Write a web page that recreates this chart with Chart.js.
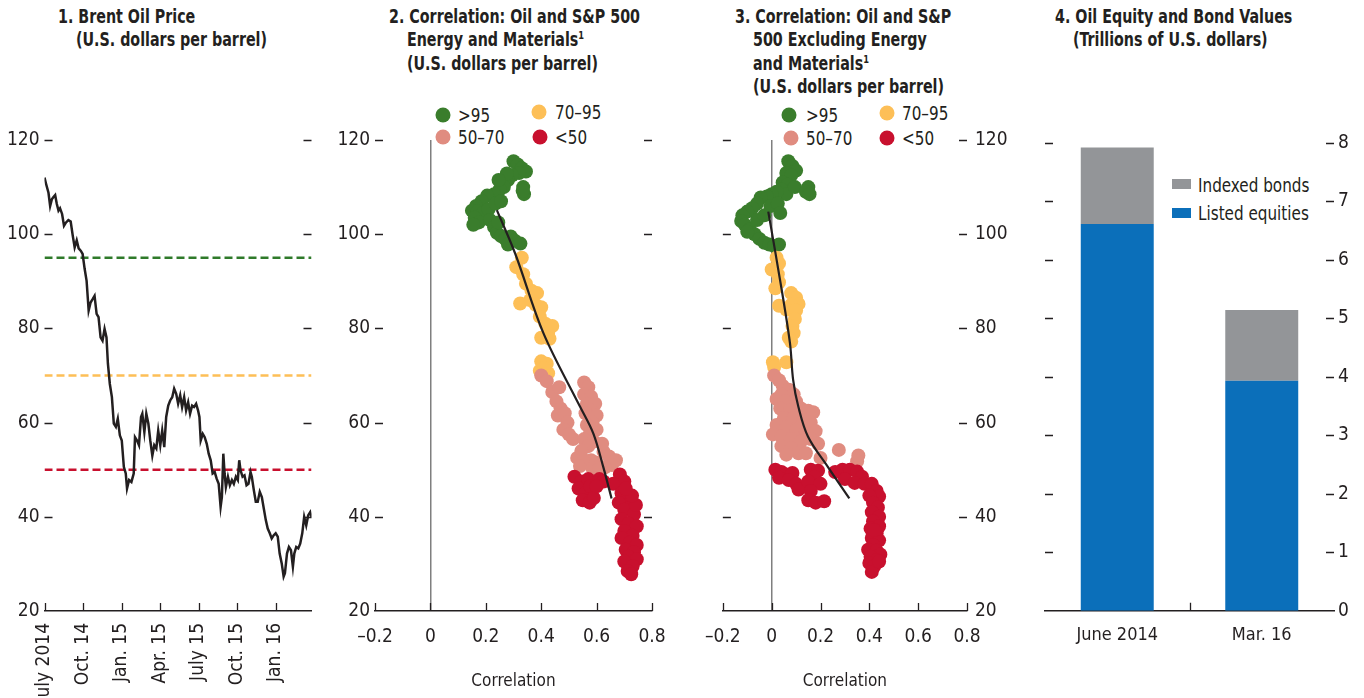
<!DOCTYPE html>
<html lang="en">
<head>
<meta charset="UTF-8" />
<title>Oil Price, Correlations and Values</title>
<script src="https://cdn.jsdelivr.net/npm/chart.js"></script>
<style>
  body {
    margin: 0;
    width: 1364px;
    height: 698px;
    overflow: hidden;
    position: relative;
    background: #fff;
    color: #231f20;
    font-family: 'Liberation Sans Narrow', 'Arial Narrow', 'DejaVu Sans Condensed', sans-serif;
  }
  canvas { position: absolute; top: 100px; }
  .title {
    position: absolute;
    top: 5px;
    font-weight: bold;
    font-size: 19px;
    line-height: 23.3px;
    white-space: nowrap;
    transform: scaleX(0.835);
    transform-origin: 0 0;
  }
  .title .ind { display: block; padding-left: 21.5px; }
  .title sup { font-size: 11px; vertical-align: 7px; line-height: 0; }
  .dot {
    position: absolute;
    width: 15px; height: 15px;
    border-radius: 50%;
    transform: translate(-50%, -50%);
  }
  .lt {
    position: absolute;
    font-size: 19px;
    line-height: 20px;
    transform: translateY(-50%) scaleX(0.89);
    transform-origin: 0 50%;
    white-space: nowrap;
  }
  .sq { position: absolute; width: 19px; height: 10px; }
</style>
</head>
<body>
  <div class="title" style="left:58px">1. Brent Oil Price<span class="ind">(U.S. dollars per barrel)</span></div>
  <div class="title" style="left:389px">2. Correlation: Oil and S&amp;P 500<span class="ind">Energy and Materials<sup>1</sup></span><span class="ind">(U.S. dollars per barrel)</span></div>
  <div class="title" style="left:735px">3. Correlation: Oil and S&amp;P<span class="ind">500 Excluding Energy</span><span class="ind">and Materials<sup>1</sup></span><span class="ind">(U.S. dollars per barrel)</span></div>
  <div class="title" style="left:1055px">4. Oil Equity and Bond Values<span class="ind">(Trillions of U.S. dollars)</span></div>

  <!-- legends for panels 2 and 3 -->
  <div class="dot" style="left:443px;top:115px;background:#3a7d2c"></div><div class="lt" style="left:458px;top:115px">&gt;95</div>
  <div class="dot" style="left:539px;top:112px;background:#fdbf57"></div><div class="lt" style="left:555px;top:112px">70–95</div>
  <div class="dot" style="left:443px;top:137px;background:#e08c80"></div><div class="lt" style="left:458px;top:137px">50–70</div>
  <div class="dot" style="left:540px;top:137px;background:#c8102e"></div><div class="lt" style="left:555px;top:137px">&lt;50</div>

  <div class="dot" style="left:789px;top:115px;background:#3a7d2c"></div><div class="lt" style="left:806px;top:115px">&gt;95</div>
  <div class="dot" style="left:887px;top:113px;background:#fdbf57"></div><div class="lt" style="left:902px;top:113px">70–95</div>
  <div class="dot" style="left:791px;top:138px;background:#e08c80"></div><div class="lt" style="left:806px;top:138px">50–70</div>
  <div class="dot" style="left:887px;top:138px;background:#c8102e"></div><div class="lt" style="left:902px;top:138px">&lt;50</div>

  <!-- legend for panel 4 -->
  <div class="sq" style="left:1172px;top:179px;background:#939598"></div><div class="lt" style="left:1198px;top:185px">Indexed bonds</div>
  <div class="sq" style="left:1172px;top:208px;background:#0b6fba"></div><div class="lt" style="left:1198px;top:213px">Listed equities</div>

  <canvas id="c1" width="330" height="598" style="left:0px"></canvas>
  <canvas id="c2" width="360" height="598" style="left:330px"></canvas>
  <canvas id="c3" width="340" height="598" style="left:690px"></canvas>
  <canvas id="c4" width="334" height="598" style="left:1030px"></canvas>

<script>
// ---- panel 1: Brent oil price (months since July 2014) ----
const oilMonth = [0, 0.13, 0.31, 0.44, 0.57, 0.70, 0.83, 0.96, 1.09, 1.21, 1.37, 1.52, 1.68, 1.86, 2.04,
  2.20, 2.35, 2.51, 2.66, 2.82, 2.97, 3.13, 3.28, 3.44, 3.59, 3.75, 3.90, 4.06, 4.21, 4.37, 4.52,
  4.68, 4.83, 4.94, 5.09, 5.25, 5.40, 5.56, 5.71, 5.87, 6.02, 6.18, 6.33, 6.43, 6.59, 6.77, 6.95,
  7.05, 7.21, 7.36, 7.52, 7.62, 7.78, 7.93, 8.09, 8.24, 8.40, 8.55, 8.71, 8.86, 9.02, 9.17, 9.33,
  9.48, 9.64, 9.79, 9.95, 10.10, 10.26, 10.41, 10.57, 10.72, 10.88, 11.03, 11.19, 11.34, 11.50,
  11.65, 11.81, 11.96, 12.07, 12.17, 12.33, 12.48, 12.64, 12.79, 12.95, 13.10, 13.26, 13.41, 13.57,
  13.72, 13.82, 13.93, 14.03, 14.13, 14.29, 14.44, 14.60, 14.75, 14.91, 15.06, 15.17, 15.27, 15.43,
  15.58, 15.74, 15.89, 16.05, 16.15, 16.31, 16.46, 16.61, 16.77, 16.93, 17.08, 17.24, 17.39, 17.55,
  17.70, 17.86, 18.01, 18.17, 18.32, 18.48, 18.63, 18.73, 18.89, 19.04, 19.20, 19.35, 19.46, 19.61,
  19.77, 19.92, 20.08, 20.23, 20.39, 20.54, 20.70, 20.80];
const oilPrice = [112.0, 110.6, 108.8, 106.0, 107.4, 107.9, 108.3, 106.4, 105.0, 105.5, 104.3, 101.8, 102.5, 103.0, 102.7,
  99.7, 97.2, 98.7, 97.0, 96.5, 95.8, 92.6, 90.1, 83.8, 85.5, 86.2, 86.9, 83.1, 82.4, 78.1, 77.4,
  79.9, 78.1, 72.5, 68.2, 65.4, 59.8, 59.1, 60.8, 57.3, 56.2, 50.6, 49.2, 46.0, 47.8, 47.4, 49.2,
  56.9, 56.2, 55.2, 61.2, 61.9, 58.0, 61.9, 59.8, 56.2, 53.0, 55.2, 54.5, 58.3, 55.2, 58.3, 54.8,
  61.2, 63.6, 64.7, 65.4, 67.2, 66.1, 64.0, 65.8, 63.3, 65.4, 62.6, 64.3, 61.9, 63.6,
  63.3, 64.0, 62.6, 61.2, 56.2, 57.6, 56.9, 55.5, 53.4, 52.0, 49.2, 49.5, 48.1, 47.0,
  42.1, 44.2, 53.4, 49.2, 46.3, 48.5, 46.7, 47.8, 47.0, 48.5, 47.8, 52.0, 49.9, 48.5,
  48.8, 46.7, 47.0, 49.5, 48.5, 45.6, 43.2, 43.2, 45.3, 44.2, 41.8, 39.3, 37.5, 36.5,
  35.4, 36.1, 36.5, 35.8, 32.2, 30.1, 27.3, 28.0, 32.2, 33.6, 32.9, 29.4, 32.2, 33.6,
  33.3, 34.3, 36.5, 40.0, 38.2, 40.3, 41.0, 40.0];
const monthMax = 20.8;
const quarterPos = [0, 3, 6, 9, 12, 15, 18];
const quarterLabels = ['July 2014', 'Oct. 14', 'Jan. 15', 'Apr. 15', 'July 15', 'Oct. 15', 'Jan. 16'];
const thresholds = [95, 70, 50];
const thresholdColors = ['#2f7a2a', '#fdbf57', '#c8102e'];
const priceTicks = [20, 40, 60, 80, 100, 120];

// ---- panel 2: correlation with S&P 500 energy and materials ----
const p2GreenX = [0.300, 0.315, 0.330, 0.345, 0.320, 0.295, 0.280, 0.265, 0.250, 0.335, 0.338, 0.333, 0.230,
  0.205, 0.185, 0.165, 0.150, 0.170, 0.190, 0.210, 0.235, 0.255, 0.160, 0.175, 0.155, 0.215, 0.230,
  0.240, 0.255, 0.270, 0.290, 0.305, 0.325, 0.280, 0.245, 0.276, 0.246];
const p2GreenY = [115.5, 114.8, 114.0, 113.3, 113.0, 112.5, 111.5, 110.0, 109.5, 110.0, 108.5, 109.2, 108.5,
  108.2, 107.0, 106.0, 105.0, 104.8, 104.5, 105.3, 106.5, 107.0, 103.5, 102.5, 102.0, 103.0, 101.5,
  100.3, 99.6, 99.0, 99.5, 98.6, 98.0, 97.8, 102.5, 112.9, 111.5];
const p2YellowX = [0.330, 0.310, 0.335, 0.345, 0.365, 0.385, 0.360, 0.380, 0.400, 0.395, 0.415, 0.440,
  0.425, 0.400, 0.430, 0.400, 0.420, 0.395, 0.425, 0.410, 0.324, 0.372];
const p2YellowY = [95.0, 93.0, 91.5, 89.5, 88.0, 87.5, 86.0, 85.0, 84.5, 82.5, 81.0, 80.5,
  79.0, 78.0, 77.8, 73.0, 72.5, 71.0, 70.5, 71.5, 85.3, 87.4];
const p2PinkX = [0.400, 0.420, 0.440, 0.465, 0.455, 0.470, 0.460, 0.485, 0.495, 0.480, 0.500, 0.515,
  0.555, 0.570, 0.555, 0.580, 0.565, 0.595, 0.580, 0.560, 0.600, 0.585, 0.565, 0.600, 0.575, 0.555,
  0.590, 0.570, 0.545, 0.530, 0.555, 0.540, 0.580, 0.600, 0.585, 0.625, 0.645, 0.670, 0.655, 0.630,
  0.610, 0.620];
const p2PinkY = [70.0, 68.8, 66.5, 67.5, 64.5, 63.0, 61.5, 62.0, 60.0, 58.5, 57.5, 56.5,
  68.5, 67.5, 66.0, 65.5, 64.0, 64.0, 62.5, 62.0, 61.5, 60.0, 59.5, 58.5, 57.5, 56.5,
  56.0, 55.0, 54.0, 52.5, 52.0, 50.8, 52.0, 51.5, 50.3, 53.8, 52.8, 52.0, 51.0, 50.5,
  50.2, 55.5];
const p2RedX = [0.684, 0.700, 0.660, 0.690, 0.712, 0.680, 0.720, 0.700, 0.735, 0.690, 0.715, 0.745,
  0.700, 0.730, 0.690, 0.720, 0.745, 0.705, 0.735, 0.715, 0.745, 0.700, 0.730, 0.712, 0.725, 0.742,
  0.728, 0.705, 0.520, 0.545, 0.570, 0.535, 0.560, 0.578, 0.550, 0.575, 0.590, 0.610, 0.625, 0.600];
const p2RedY = [49.0, 47.5, 47.0, 45.0, 44.0, 43.0, 42.0, 41.5, 40.5, 39.5, 38.5, 38.0,
  37.0, 36.0, 35.5, 34.5, 34.0, 33.0, 32.5, 31.5, 31.0, 30.5, 29.5, 28.5, 27.8, 42.5,
  44.5, 46.0, 48.5, 47.5, 48.0, 46.0, 45.0, 46.5, 43.5, 43.0, 44.0, 48.0, 47.5, 46.5];
const p2FitX = [0.240, 0.306, 0.408, 0.540, 0.588, 0.624, 0.654];
const p2FitY = [105.1, 95.9, 79.0, 63.4, 57.7, 50.6, 43.9];

// ---- panel 3: correlation with S&P 500 excluding energy and materials ----
const p3GreenX = [0.068, 0.085, 0.100, 0.060, 0.080, 0.045, 0.065, 0.040, 0.060, 0.095, 0.150, 0.140,
  0.155, 0.020, 0.000, -0.020, -0.045, -0.060, -0.080, -0.100, -0.120, -0.125, -0.110, -0.090, -0.070,
  -0.050, -0.030, -0.010, 0.010, 0.030, -0.100, -0.060, -0.030, -0.005, 0.025, 0.035];
const p3GreenY = [115.5, 114.5, 113.5, 113.0, 112.5, 111.0, 110.5, 109.5, 108.5, 110.0, 110.0, 109.0,
  108.5, 109.0, 108.5, 108.0, 107.8, 106.5, 105.5, 104.8, 104.0, 102.8, 102.0, 101.0, 100.0,
  99.0, 98.2, 97.8, 97.5, 97.8, 100.5, 103.0, 104.0, 106.0, 106.5, 104.5];
const p3YellowX = [0.020, 0.030, 0.000, 0.025, 0.030, 0.015, 0.080, 0.100, 0.110, 0.080, 0.030, 0.060,
  0.100, 0.095, 0.085, 0.090, 0.070, 0.080, 0.005, 0.060, 0.010];
const p3YellowY = [95.0, 93.8, 92.5, 91.5, 89.8, 88.5, 87.5, 86.5, 85.2, 85.0, 84.8, 84.0,
  83.8, 82.0, 80.5, 79.0, 78.0, 77.2, 72.8, 72.8, 71.8];
const p3PinkX = [0.010, 0.030, 0.045, 0.070, 0.040, 0.090, 0.020, 0.055, 0.100, 0.035, 0.075, 0.120,
  0.150, 0.170, 0.050, 0.090, 0.130, 0.160, 0.020, 0.060, 0.100, 0.140, 0.180, 0.005, 0.040, 0.080,
  0.120, 0.160, 0.190, 0.040, 0.080, 0.110, 0.060, 0.140, 0.275, 0.355, 0.350, 0.200];
const p3PinkY = [70.0, 69.0, 67.8, 67.0, 66.0, 66.0, 65.0, 64.5, 64.5, 63.0, 62.5, 63.0,
  62.5, 62.2, 61.0, 61.0, 60.5, 60.0, 59.5, 59.0, 58.5, 58.0, 58.2, 57.5, 57.0, 56.5,
  56.0, 56.5, 55.5, 55.0, 54.5, 53.5, 53.2, 53.5, 54.2, 53.0, 51.8, 52.5];
const p3RedX = [0.015, 0.040, 0.060, 0.085, 0.030, 0.070, 0.100, 0.110, 0.160, 0.190, 0.175, 0.150,
  0.200, 0.160, 0.150, 0.180, 0.215, 0.260, 0.290, 0.320, 0.350, 0.370, 0.300, 0.340, 0.380, 0.410,
  0.430, 0.440, 0.400, 0.415, 0.435, 0.410, 0.440, 0.415, 0.440, 0.405, 0.430, 0.410, 0.440, 0.415,
  0.395, 0.430, 0.445, 0.405, 0.430, 0.400, 0.420, 0.410, 0.440, 0.420];
const p3RedY = [50.0, 49.5, 49.0, 49.3, 48.3, 47.8, 47.0, 45.8, 50.0, 49.8, 48.5, 47.5,
  47.0, 45.5, 43.5, 43.0, 43.3, 49.5, 50.0, 50.0, 49.6, 48.5, 48.0, 47.2, 47.0, 47.0,
  45.5, 44.3, 44.5, 43.0, 42.0, 41.0, 40.0, 39.0, 38.0, 37.5, 36.5, 35.5, 35.0, 34.0,
  33.0, 32.8, 32.0, 31.5, 30.8, 30.2, 29.5, 28.3, 30.5, 37.2];
const p3FitX = [-0.014, 0.041, 0.075, 0.088, 0.109, 0.149, 0.230, 0.318];
const p3FitY = [104.8, 88.2, 76.8, 69.0, 63.4, 57.0, 50.6, 43.9];

const corrTicks = [-0.2, 0, 0.2, 0.4, 0.6, 0.8];

// ---- panel 4: oil equity and bond values ----
const valueDates = ['June 2014', 'Mar. 16'];
const listedEquities = [6.61, 3.93];
const indexedBonds = [1.31, 1.21];
const valueTicks = [0, 1, 2, 3, 4, 5, 6, 7, 8];

const INK = '#231f20';
Chart.defaults.font.family = "'Liberation Sans Narrow', 'Arial Narrow', 'DejaVu Sans Condensed', sans-serif";
Chart.defaults.font.size = 19;
Chart.defaults.color = INK;
Chart.defaults.animation = false;
Chart.defaults.plugins.legend.display = false;
Chart.defaults.plugins.tooltip.enabled = false;

const fixW = w => s => { s.width = w; };
const fixH = h => s => { s.height = h; };
const setTicks = vals => s => { s.ticks = vals.map(v => ({ value: v })); };
const pts = (xs, ys) => xs.map((x, i) => ({ x: x, y: ys[i] }));
const corrLabel = v => v === 0 ? '0' : (v < 0 ? '–' : '') + Math.abs(v).toFixed(1);

// short tick marks drawn inside the plot area
const innerTicks = {
  id: 'innerTicks',
  afterDraw(chart, args, opts) {
    const { ctx, chartArea: a } = chart;
    const len = 8;
    ctx.save();
    ctx.strokeStyle = INK;
    ctx.lineWidth = 1.3;
    ctx.beginPath();
    const ys = chart.scales.y;
    (opts.yValues || []).forEach(v => {
      const py = Math.round(ys.getPixelForValue(v)) + 0.5;
      if (opts.left) { ctx.moveTo(a.left, py); ctx.lineTo(a.left + len, py); }
      if (opts.right) { ctx.moveTo(a.right - len, py); ctx.lineTo(a.right, py); }
    });
    const xs = chart.scales.x;
    (opts.xValues || []).forEach(v => {
      const px = Math.round(xs.getPixelForValue(v)) + 0.5;
      ctx.moveTo(px, a.bottom); ctx.lineTo(px, a.bottom - len);
    });
    ctx.stroke();
    ctx.restore();
  }
};

const scatterSets = (g, y, p, r, fit) => [
  { type: 'line', data: fit, borderColor: INK, borderWidth: 2.2, pointRadius: 0, tension: 0.35, fill: false },
  { data: r, backgroundColor: '#c8102e' },
  { data: p, backgroundColor: '#e08c80' },
  { data: y, backgroundColor: '#fdbf57' },
  { data: g, backgroundColor: '#3a7d2c' }
].map(d => Object.assign({ pointRadius: 7, borderWidth: 0, pointHoverRadius: 7 }, d));

// panel 1
new Chart(document.getElementById('c1'), {
  type: 'line',
  data: {
    datasets: [
      { data: pts(oilMonth, oilPrice), borderColor: INK, borderWidth: 2.5, pointRadius: 0, tension: 0 },
      ...thresholds.map((t, i) => ({
        data: [{ x: 0, y: t }, { x: monthMax, y: t }],
        borderColor: thresholdColors[i], borderWidth: 2.5, borderDash: [8, 4], pointRadius: 0
      }))
    ]
  },
  options: {
    responsive: false,
    layout: { padding: { top: 40, right: 18.5, left: 0, bottom: 0 } },
    scales: {
      x: {
        type: 'linear', min: 0, max: monthMax,
        afterBuildTicks: setTicks(quarterPos), afterFit: fixH(87),
        grid: { display: false, drawTicks: false }, border: { display: true, color: INK, width: 1.5 },
        ticks: { minRotation: 90, maxRotation: 90, autoSkip: false, padding: 12,
                 callback: (v, i) => quarterLabels[i] }
      },
      y: {
        min: 20, max: 120,
        afterBuildTicks: setTicks(priceTicks), afterFit: fixW(44.5),
        grid: { display: false, drawTicks: false }, border: { display: false },
        ticks: { padding: 5 }
      }
    },
    plugins: { innerTicks: { left: true, right: true, yValues: priceTicks.slice(1), xValues: quarterPos } }
  },
  plugins: [innerTicks]
});

function corrChart(id, sets, yPos, yWidth, pad) {
  return new Chart(document.getElementById(id), {
    type: 'scatter',
    data: { datasets: sets },
    options: {
      responsive: false,
      layout: { padding: pad },
      scales: {
        x: {
          type: 'linear', min: -0.2, max: 0.8,
          afterBuildTicks: setTicks(corrTicks), afterFit: fixH(87),
          grid: {
            drawTicks: false, lineWidth: 1.5,
            color: c => (c.tick && c.tick.value === 0) ? '#7f7f7f' : 'rgba(0,0,0,0)'
          },
          border: { display: true, color: INK, width: 1.5 },
          ticks: { padding: 15, callback: v => corrLabel(v) },
          title: { display: true, text: 'Correlation', font: { size: 17 }, padding: { top: 0, bottom: 6 } }
        },
        y: {
          position: yPos, min: 20, max: 120,
          afterBuildTicks: setTicks(priceTicks), afterFit: fixW(yWidth),
          grid: { display: false, drawTicks: false }, border: { display: false },
          ticks: { padding: yPos === 'left' ? 5 : 8 }
        }
      },
      plugins: { innerTicks: { left: true, right: true, yValues: priceTicks.slice(1), xValues: corrTicks } }
    },
    plugins: [innerTicks]
  });
}

corrChart('c2', scatterSets(pts(p2GreenX, p2GreenY), pts(p2YellowX, p2YellowY), pts(p2PinkX, p2PinkY),
  pts(p2RedX, p2RedY), pts(p2FitX, p2FitY)), 'left', 45, { top: 40, right: 38, left: 0, bottom: 0 });

corrChart('c3', scatterSets(pts(p3GreenX, p3GreenY), pts(p3YellowX, p3YellowY), pts(p3PinkX, p3PinkY),
  pts(p3RedX, p3RedY), pts(p3FitX, p3FitY)), 'right', 63, { top: 40, right: 0, left: 30, bottom: 0 });

// panel 4
new Chart(document.getElementById('c4'), {
  type: 'bar',
  data: {
    labels: valueDates,
    datasets: [
      { label: 'Listed equities', data: listedEquities, backgroundColor: '#0b6fba' },
      { label: 'Indexed bonds', data: indexedBonds, backgroundColor: '#939598' }
    ]
  },
  options: {
    responsive: false,
    layout: { padding: { top: 42.7, right: 0, left: 15, bottom: 0 } },
    datasets: { bar: { categoryPercentage: 1, barPercentage: 0.505 } },
    scales: {
      x: {
        stacked: true, afterFit: fixH(87.3),
        grid: { display: false, drawTicks: false }, border: { display: true, color: INK, width: 1.5 },
        ticks: { padding: 14, font: { size: 18 } }
      },
      y: {
        stacked: true, position: 'right', min: 0, max: 8,
        afterBuildTicks: setTicks(valueTicks), afterFit: fixW(30),
        grid: { display: false, drawTicks: false }, border: { display: false },
        ticks: { padding: 4 }
      }
    },
    plugins: { innerTicks: { left: true, right: true, yValues: valueTicks.slice(1), xValues: [0.5] } }
  },
  plugins: [innerTicks]
});
</script>
</body>
</html>
